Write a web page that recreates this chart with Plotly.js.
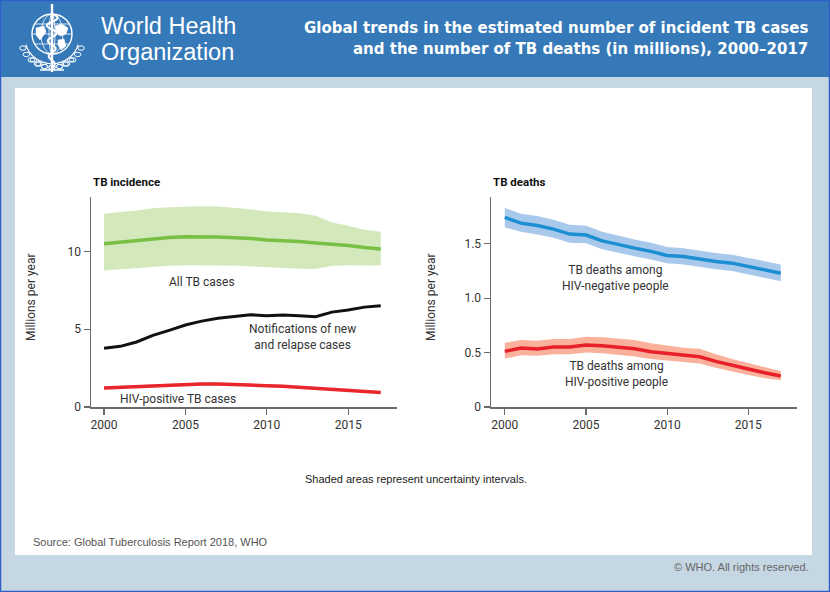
<!DOCTYPE html>
<html>
<head>
<meta charset="utf-8">
<script src="https://cdn.plot.ly/plotly-3.0.1.min.js"></script>
<style>
html,body{margin:0;padding:0;background:#c5d7e3;}
#chart{width:830px;height:592px;}
</style>
</head>
<body>
<div id="chart"></div>
<script>
// ---- Data ----
const years = [2000,2001,2002,2003,2004,2005,2006,2007,2008,2009,2010,2011,2012,2013,2014,2015,2016,2017];

// TB incidence (millions)
const allTB    = [10.49,10.60,10.70,10.84,10.90,10.95,10.96,10.93,10.88,10.84,10.74,10.70,10.64,10.55,10.47,10.38,10.25,10.15];
const allTBHi  = [12.42,12.53,12.63,12.78,12.84,12.89,12.90,12.89,12.82,12.72,12.57,12.52,12.46,12.29,11.86,11.65,11.39,11.26];
const allTBLo  = [8.78,8.86,8.93,9.04,9.08,9.12,9.12,9.11,9.10,9.05,8.99,8.94,8.89,8.87,9.08,9.12,9.10,9.10];
const notified = [3.77,3.90,4.18,4.60,4.93,5.27,5.52,5.70,5.82,5.93,5.87,5.91,5.87,5.80,6.10,6.23,6.42,6.51];
const hivInc   = [1.22,1.27,1.31,1.37,1.42,1.46,1.48,1.48,1.46,1.41,1.37,1.33,1.27,1.20,1.15,1.09,1.01,0.94];
const hivIncHi = [1.30,1.35,1.39,1.45,1.50,1.54,1.56,1.56,1.54,1.49,1.45,1.41,1.35,1.28,1.22,1.16,1.08,1.01];
const hivIncLo = [1.14,1.19,1.23,1.29,1.34,1.38,1.40,1.40,1.38,1.33,1.29,1.25,1.19,1.12,1.08,1.02,0.94,0.87];

// TB deaths (millions)
const negDeaths   = [1.742,1.690,1.668,1.635,1.589,1.580,1.527,1.490,1.460,1.430,1.393,1.384,1.360,1.338,1.322,1.292,1.261,1.230];
const negDeathsHi = [1.83,1.775,1.755,1.72,1.675,1.665,1.61,1.575,1.54,1.51,1.47,1.46,1.44,1.415,1.40,1.37,1.34,1.31];
const negDeathsLo = [1.65,1.61,1.585,1.555,1.51,1.505,1.45,1.415,1.385,1.355,1.32,1.31,1.285,1.265,1.25,1.22,1.19,1.155];
const posDeaths   = [0.511,0.542,0.533,0.551,0.551,0.569,0.563,0.551,0.536,0.508,0.493,0.474,0.462,0.419,0.380,0.349,0.315,0.285];
const posDeathsHi = [0.59,0.615,0.61,0.625,0.625,0.645,0.64,0.63,0.615,0.585,0.565,0.545,0.535,0.485,0.44,0.405,0.365,0.33];
const posDeathsLo = [0.445,0.475,0.47,0.485,0.485,0.50,0.495,0.48,0.465,0.44,0.425,0.41,0.40,0.36,0.325,0.295,0.265,0.245];

const leftYTicks = [0,5,10];
const leftYLabels = ['0','5','10'];
const rightYTicks = [0,0.5,1.0,1.5];
const rightYLabels = ['0','0.5','1.0','1.5'];
const xTicks = [2000,2005,2010,2015];
const xLabels = ['2000','2005','2010','2015'];

// ---- helpers ----
const W = 830, H = 592;
const px = x => x / W;
const py = y => 1 - y / H;
function band(xa, lo, hi, color, xaxis, yaxis) {
  return {
    x: xa.concat(xa.slice().reverse()),
    y: lo.concat(hi.slice().reverse()),
    type: 'scatter', mode: 'lines', fill: 'toself',
    fillcolor: color, line: {width: 0, color: color},
    hoverinfo: 'skip', showlegend: false, xaxis: xaxis, yaxis: yaxis
  };
}
function line(xa, ya, color, width, xaxis, yaxis) {
  return {x: xa, y: ya, type: 'scatter', mode: 'lines',
    line: {color: color, width: width}, showlegend: false, xaxis: xaxis, yaxis: yaxis};
}

const traces = [
  band(years, allTBLo, allTBHi, '#d3e8bb', 'x', 'y'),
  band(years, hivIncLo, hivIncHi, '#f8b9a8', 'x', 'y'),
  line(years, allTB, '#78c043', 3.5, 'x', 'y'),
  line(years, notified, '#111111', 3, 'x', 'y'),
  line(years, hivInc, '#e8262c', 3.5, 'x', 'y'),
  band(years, negDeathsLo, negDeathsHi, '#a9c9ec', 'x2', 'y2'),
  band(years, posDeathsLo, posDeathsHi, '#f9b19b', 'x2', 'y2'),
  line(years, negDeaths, '#1b8fd2', 3.5, 'x2', 'y2'),
  line(years, posDeaths, '#e8202a', 3.5, 'x2', 'y2')
];

const chartFont = 'Roboto, "DejaVu Sans", sans-serif';
const axisCommon = {
  showline: true, linecolor: '#6a6a6a', linewidth: 1.5,
  ticks: 'outside', ticklen: 6, tickwidth: 1.2, tickcolor: '#6a6a6a',
  showgrid: false, zeroline: false, fixedrange: true,
  tickfont: {family: chartFont, size: 12, color: '#333333'}
};
const ydom = [py(407), py(197)];

// ---- shapes (backgrounds + WHO emblem) ----
const shapes = [
  {type:'rect', xref:'paper', yref:'paper', x0:0, x1:1, y0:py(77), y1:1, fillcolor:'#3679b9', line:{width:0}, layer:'below'},
  {type:'rect', xref:'paper', yref:'paper', x0:px(15), x1:px(812), y0:py(555), y1:py(88), fillcolor:'#ffffff', line:{width:0}, layer:'below'},
  {type:'rect', xref:'paper', yref:'paper', x0:px(0.5), x1:px(829.5), y0:py(591.5), y1:py(0.5), line:{color:'#2e5fc7', width:1.5}, layer:'above'}
];
// emblem: globe
const ex = 52, ey = 34, er = 20;
function circ(cx, cy, rx, ry, lw) {
  shapes.push({type:'circle', xref:'paper', yref:'paper', x0:px(cx-rx), x1:px(cx+rx), y0:py(cy+ry), y1:py(cy-ry), line:{color:'#ffffff', width:lw}, layer:'above'});
}
function seg(x0, y0, x1, y1, lw) {
  shapes.push({type:'line', xref:'paper', yref:'paper', x0:px(x0), x1:px(x1), y0:py(y0), y1:py(y1), line:{color:'#ffffff', width:lw}, layer:'above'});
}
circ(ex, ey, er, er, 1.4);
circ(ex, ey, er*0.55, er, 0.8);
circ(ex, ey, er*0.15, er, 0.8);
seg(ex-er, ey, ex+er, ey, 0.8);
seg(ex-er*0.87, ey-10, ex+er*0.87, ey-10, 0.8);
seg(ex-er*0.87, ey+10, ex+er*0.87, ey+10, 0.8);
function blob(pts) {
  let d = 'M' + pts.map(p => px(p[0]) + ',' + py(p[1])).join(' L') + ' Z';
  shapes.push({type:'path', xref:'paper', yref:'paper', path:d, fillcolor:'#ffffff', line:{color:'#ffffff', width:0.5}, layer:'above'});
}
blob([[55,26],[62,24],[68,28],[66,34],[60,36],[56,32]]);
blob([[58,40],[64,39],[66,46],[61,50],[58,45]]);
blob([[36,28],[44,26],[46,32],[40,40],[36,35]]);
seg(ex, 4, ex, 72, 2.4);
(function(){
  let d = '';
  for (let i = 0; i <= 40; i++) {
    const yy = 14 + i * 1.35;
    const xx = ex + 6 * Math.sin(i * 0.55) * (1 - i/70);
    d += (i === 0 ? 'M' : ' L') + px(xx) + ',' + py(yy);
  }
  shapes.push({type:'path', xref:'paper', yref:'paper', path:d, line:{color:'#ffffff', width:2}, layer:'above'});
})();
for (const side of [-1, 1]) {
  for (let k = 0; k < 9; k++) {
    const a = (200 + k * 14) * Math.PI / 180;
    const r = 31;
    const cx = ex + side * Math.abs(Math.cos(a)) * r * (k < 7 ? 1 : 0.9);
    const cy = ey + 4 - Math.sin(a) * r * 0.95;
    circ(cx, cy, 3.2, 2.2, 1.0);
  }
  let d = '';
  for (let k = 0; k <= 20; k++) {
    const a = (195 + k * 6.5) * Math.PI / 180;
    const xx = ex + side * Math.abs(Math.cos(a)) * 27;
    const yy = ey + 4 - Math.sin(a) * 27 * 0.95;
    d += (k === 0 ? 'M' : ' L') + px(xx) + ',' + py(yy);
  }
  shapes.push({type:'path', xref:'paper', yref:'paper', path:d, line:{color:'#ffffff', width:1.2}, layer:'above'});
}
seg(40, 70, 64, 70, 1.5);

// ---- annotations ----
function ann(text, x, y, opts) {
  return Object.assign({text: text, xref:'paper', yref:'paper', x: px(x), y: py(y), showarrow:false,
    font:{family: chartFont, size: 12, color:'#333333'}, xanchor:'center', yanchor:'middle'}, opts || {});
}
const whoFont = {family:'"Liberation Sans", Arial, sans-serif', size:23.5, color:'#ffffff'};
const headFont = {family:'"DejaVu Sans", sans-serif', size:15, color:'#ffffff', weight:700};
const annotations = [
  ann('World Health', 99, 26, {xanchor:'left', font:whoFont}),
  ann('Organization', 99, 52, {xanchor:'left', font:whoFont}),
  ann('<b>Global trends in the estimated number of incident TB cases</b>', 810, 28, {xanchor:'right', font:headFont}),
  ann('<b>and the number of TB deaths (in millions), 2000–2017</b>', 810, 49, {xanchor:'right', font:headFont}),
  ann('<b>TB incidence</b>', 91, 182, {xanchor:'left', font:{family: chartFont, size: 11.5, color:'#111111'}}),
  ann('<b>TB deaths</b>', 491, 182, {xanchor:'left', font:{family: chartFont, size: 11.5, color:'#111111'}}),
  ann('Millions per year', 31, 297, {textangle:-90}),
  ann('Millions per year', 431, 297, {textangle:-90}),
  ann('All TB cases', 202, 282),
  ann('Notifications of new<br>and relapse cases', 302, 337),
  ann('HIV-positive TB cases', 178, 399),
  ann('TB deaths among<br>HIV-negative people', 615, 278),
  ann('TB deaths among<br>HIV-positive people', 616, 374),
  ann('Shaded areas represent uncertainty intervals.', 416, 479, {font:{family:'"Liberation Sans", Arial, sans-serif', size:11, color:'#222222'}}),
  ann('Source: Global Tuberculosis Report 2018, WHO', 31, 542, {xanchor:'left', font:{family:'"Liberation Sans", Arial, sans-serif', size:11, color:'#555555'}}),
  ann('© WHO. All rights reserved.', 811, 567, {xanchor:'right', font:{family:'"Liberation Sans", Arial, sans-serif', size:11, color:'#666666'}})
];

const layout = {
  width: W, height: H,
  margin: {l:0, r:0, t:0, b:0, pad:0},
  paper_bgcolor: '#c5d7e3', plot_bgcolor: 'rgba(0,0,0,0)',
  showlegend: false,
  xaxis: Object.assign({}, axisCommon, {domain:[px(91), px(397)], range:[1999.2, 2018], tickvals:xTicks, ticktext:xLabels, anchor:'y'}),
  yaxis: Object.assign({}, axisCommon, {domain:ydom, range:[0, 13.5], tickvals:leftYTicks, ticktext:leftYLabels, anchor:'x'}),
  xaxis2: Object.assign({}, axisCommon, {domain:[px(491), px(797)], range:[1999.15, 2018], tickvals:xTicks, ticktext:xLabels, anchor:'y2'}),
  yaxis2: Object.assign({}, axisCommon, {domain:ydom, range:[0, 1.93], tickvals:rightYTicks, ticktext:rightYLabels, anchor:'x2'}),
  shapes: shapes,
  annotations: annotations
};

Plotly.newPlot('chart', traces, layout, {displayModeBar:false, staticPlot:true});
</script>
</body>
</html>
